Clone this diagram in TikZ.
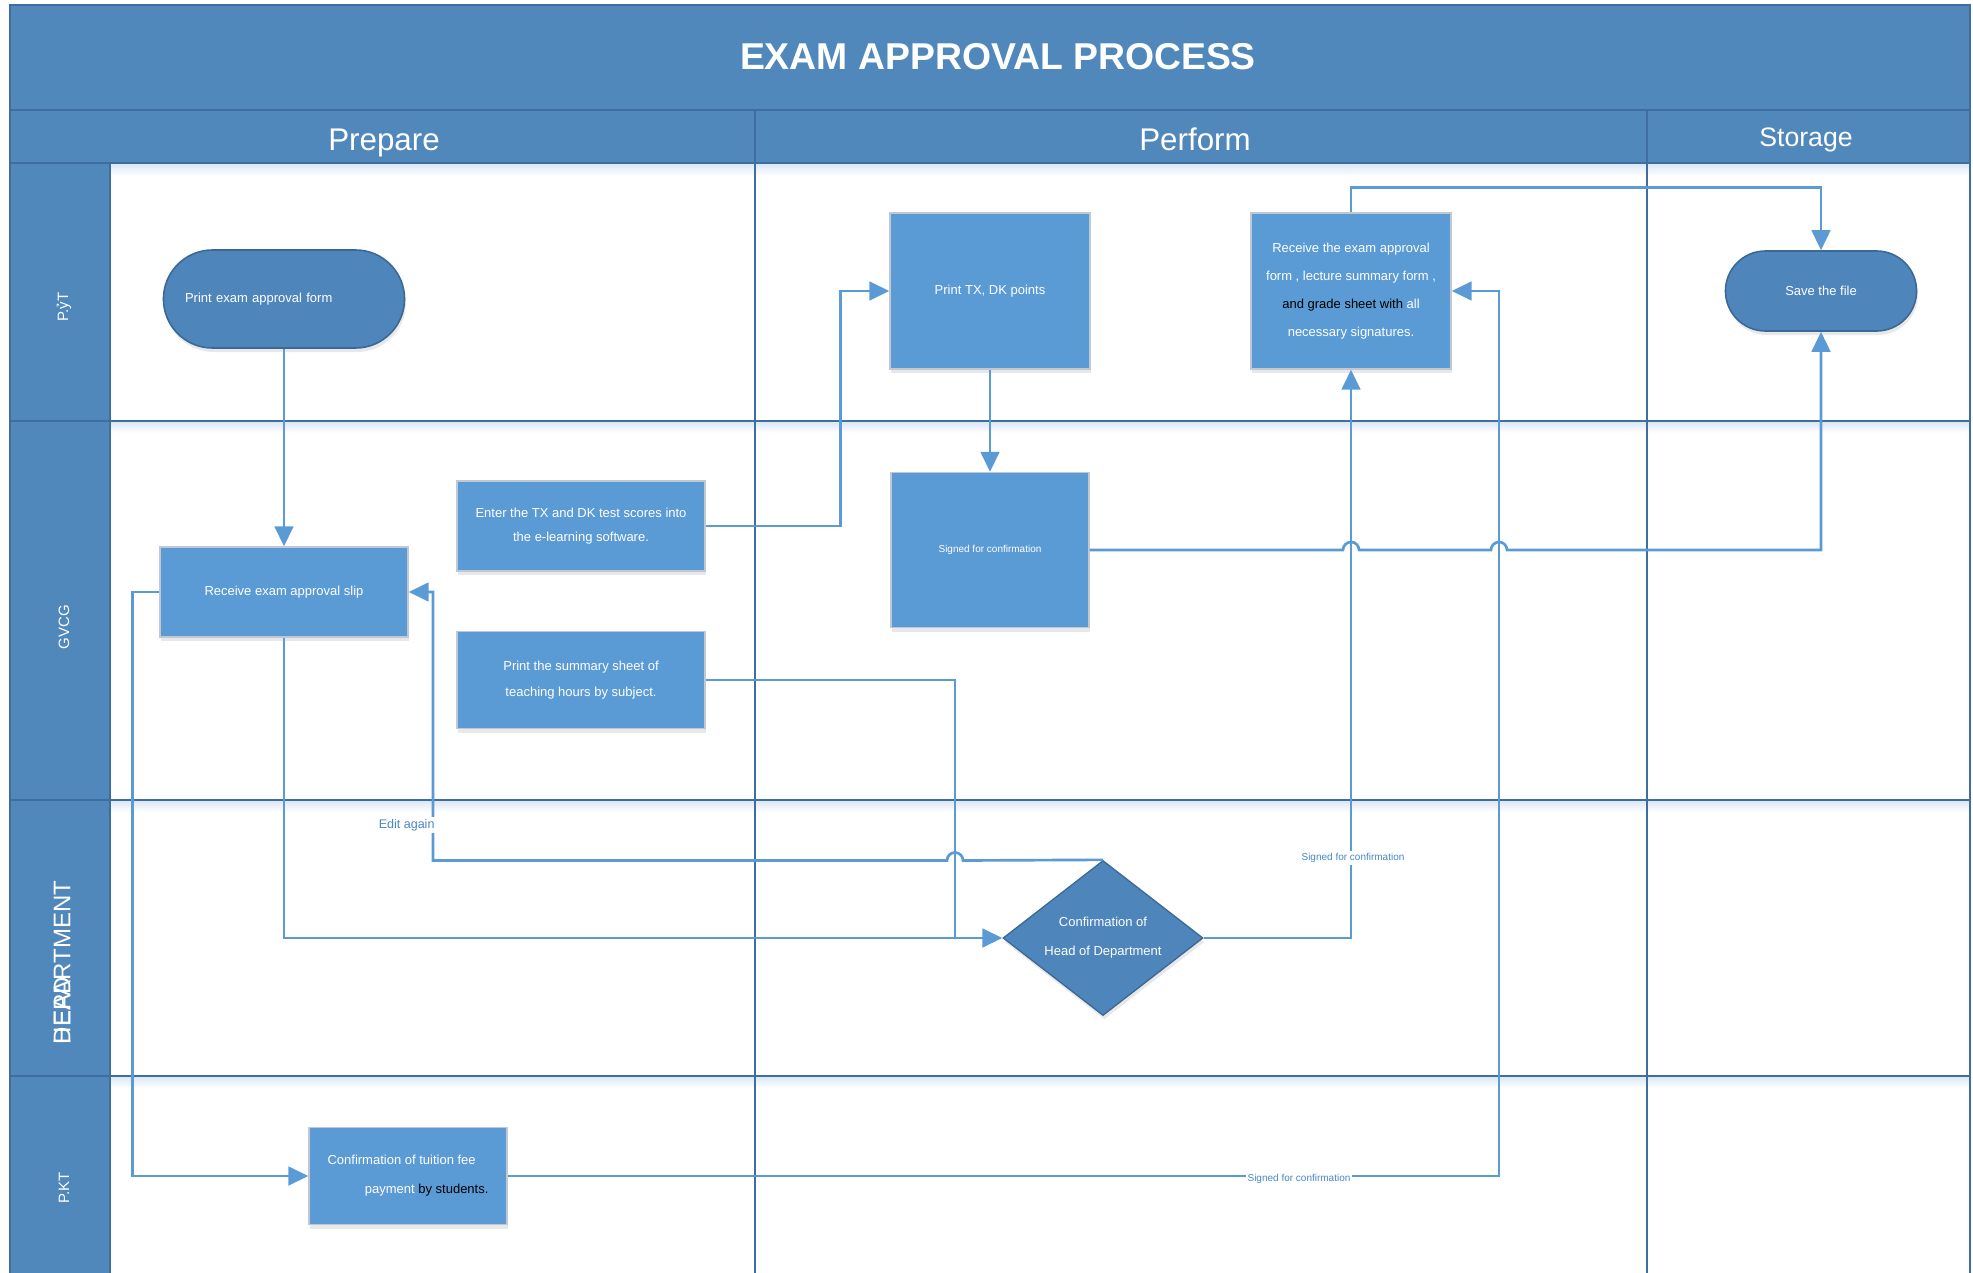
\documentclass[tikz,border=0pt]{standalone}
\usepackage{fontspec}
\setmainfont{Liberation Sans}
\usetikzlibrary{arrows.meta,shapes.geometric,shapes.misc,shadows}

\definecolor{bandblue}{RGB}{80,136,188}
\definecolor{gridblue}{RGB}{62,110,160}
\definecolor{boxblue}{RGB}{91,155,213}
\definecolor{boxedge}{RGB}{192,200,212}
\definecolor{termblue}{RGB}{78,134,188}
\definecolor{termedge}{RGB}{60,104,150}
\definecolor{flowblue}{RGB}{91,155,213}
\definecolor{lbltext}{RGB}{74,134,200}
\definecolor{glow}{RGB}{220,232,246}

\tikzset{every picture/.style={line width=0.75pt}}
\tikzset{
  procbox/.style={draw=boxedge, line width=1pt, fill=boxblue, text=white, align=center, inner sep=2pt,
    font=\fontsize{9.75}{21}\selectfont, drop shadow={shadow xshift=1pt, shadow yshift=-3pt, opacity=.18}},
  termbox/.style={rounded rectangle, draw=termedge, line width=1.2pt, fill=termblue, text=white,
    font=\fontsize{9.75}{12}\selectfont, drop shadow={shadow xshift=1pt, shadow yshift=-3pt, opacity=.18}},
  decbox/.style={diamond, aspect=1.29, inner sep=0pt, draw=termedge, line width=1pt, fill=termblue, text=white,
    align=center, font=\fontsize{9.75}{21.75}\selectfont, drop shadow={shadow xshift=1pt, shadow yshift=-3pt, opacity=.18}},
  flow/.style={draw=flowblue, line width=2pt, -{Triangle[length=15pt,width=14pt]}},
  link/.style={draw=flowblue, line width=2pt},
  flowlbl/.style={text=lbltext, fill=white, inner sep=1.5pt, font=\fontsize{7.5}{9}\selectfont},
  lanelbl/.style={text=white, rotate=90, font=\fontsize{11.25}{13}\selectfont},
  gridline/.style={draw=gridblue, line width=1.5pt},
}

\begin{document}
\begin{tikzpicture}[x=0.75pt,y=0.75pt,yscale=-1,xscale=1]
	\useasboundingbox (0,0) rectangle (1973,1273);

	%Shape: Rectangle [title and header bands]
	\fill[bandblue] (10,5) rectangle (1970,163);
	%Shape: Rectangle [lane label column]
	\fill[bandblue] (10,163) rectangle (110,1273);
	% glow under header and lanes
	\shade[top color=glow, bottom color=white] (110,164) rectangle (1970,176);
	\foreach \y in {421,800,1076}
		\shade[top color=glow, bottom color=white] (110,\y+1) rectangle (1970,\y+12);

	%Straight Lines [frame]
	\draw[gridline] (10,5) rectangle (1970,1280);
	\draw[gridline] (10,110) -- (1970,110);
	\draw[gridline] (10,163) -- (1970,163);
	\draw[gridline] (110,163) -- (110,1280);
	%Straight Lines [lanes]
	\foreach \y in {421,800,1076}
		\draw[gridline] (10,\y) -- (1970,\y);
	%Straight Lines [columns]
	\foreach \x in {755,1647}
		\draw[gridline] (\x,110) -- (\x,1280);

	% Text Node
	\node[text=white, font=\bfseries\fontsize{28}{32}\selectfont] (title) at (998,57) {EXAM APPROVAL PROCESS};
	% Text Node
	\node[text=white, anchor=base, font=\fontsize{23.5}{28}\selectfont] (prep) at (384,151) {Prepare};
	% Text Node
	\node[text=white, anchor=base, font=\fontsize{23.5}{28}\selectfont] (perf) at (1195,151) {Perform};
	% Text Node
	\node[text=white, anchor=base, font=\fontsize{20}{24}\selectfont] (stor) at (1806,147) {Storage};

	% Text Node
	\node[lanelbl] (lpyt) at (64,307) {P.ỷT};
	% Text Node
	\node[lanelbl] (lgvcg) at (64,627) {GVCG};
	% Text Node
	\node[lanelbl, anchor=west, font=\fontsize{18}{20}\selectfont] (lhead) at (62,1049) {HEAD};
	\node[lanelbl, anchor=west, font=\fontsize{18}{20}\selectfont] (ldept) at (62,1049) {DEPARTMENT};
	% Text Node
	\node[lanelbl] (lpkt) at (64,1188) {P.KT};

	%Shapes
	\node[termbox, minimum width=187.5pt, minimum height=73.5pt, text width=148.5pt, align=left] (form) at (284,299) {Print exam approval form};
	\node[procbox, minimum width=186pt, minimum height=67.5pt] (slip) at (284,592) {Receive exam approval slip};
	\node[procbox, minimum width=186pt, minimum height=67.5pt, font=\fontsize{9.75}{18}\selectfont] (enter) at (581,526) {Enter the TX and DK test scores into\\the e-learning software.};
	\node[procbox, minimum width=186pt, minimum height=72.75pt, font=\fontsize{9.75}{20}\selectfont] (summary) at (581,680) {Print the summary sheet of\\teaching hours by subject.};
	\node[procbox, minimum width=150pt, minimum height=117pt] (printtx) at (990,291) {Print TX, DK points};
	\node[procbox, minimum width=148.5pt, minimum height=116.25pt, font=\fontsize{7.5}{9}\selectfont] (signbox) at (990,550) {Signed for confirmation};
	\node[procbox, minimum width=150pt, minimum height=117pt] (receive) at (1351,291) {Receive the exam approval\\form , lecture summary form ,\\\textcolor{black}{and grade sheet with} all\\necessary signatures.};
	\node[termbox, minimum width=150pt, minimum height=60pt] (save) at (1821,291) {Save the file};
	\node[decbox, minimum width=150pt, minimum height=116.25pt] (hod) at (1103,938) {Confirmation of\\Head of Department};
	\node[procbox, minimum width=148.5pt, minimum height=72.75pt, align=left, font=\fontsize{9.75}{21.75}\selectfont] (ptkbox) at (408,1176) {Confirmation of tuition fee\\\hspace*{28pt}payment \textcolor{black}{by students.}};

	%Straight Lines [connectors]
	\draw[flow] (form.south) -- (slip.north);
	\draw[flow] (slip.south) |- (hod.west);
	\coordinate (join) at (955,938);
	\draw[link] (summary.east) -| (join);
	\draw[flow] (enter.east) -- ++(135,0) |- (printtx.west);
	\draw[flow] (printtx.south) -- (signbox.north);
	\draw[flow] (signbox.east) -- (1343,550) arc[start angle=180, end angle=360, radius=8]
		-- (1491,550) arc[start angle=180, end angle=360, radius=8] -| (save.south);
	\draw[flow] (hod.north) -- (963,860.5) arc[start angle=0, end angle=-180, radius=8]
		-- (433,860.5) |- (slip.east);
	\draw[flow] (hod.east) -| (receive.south);
	\draw[flow] (ptkbox.east) -- (1499,1176) |- (receive.east);
	\draw[flow] (receive.north) -- ++(0,-25) -| (save.north);
	\draw[flow] (slip.west) -- ++(-27,0) |- (ptkbox.west);

	% Text Node
	\node[flowlbl, anchor=east, font=\fontsize{9.4}{11}\selectfont] (edit) at (437,825) {Edit again};
	% Text Node
	\node[flowlbl] (signhod) at (1353,858) {Signed for confirmation};
	% Text Node
	\node[flowlbl] (signpkt) at (1299,1179) {Signed for confirmation};

\end{tikzpicture}
\end{document}
